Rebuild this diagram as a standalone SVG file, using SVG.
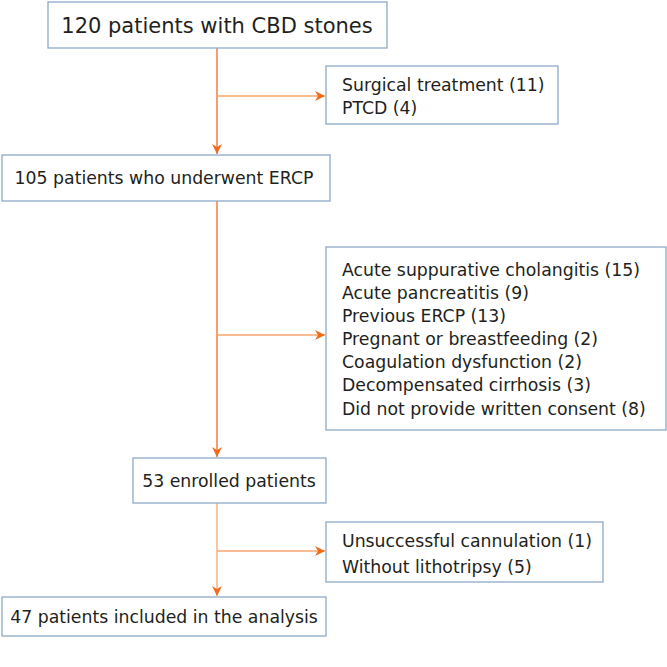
<svg xmlns="http://www.w3.org/2000/svg" width="667" height="667" viewBox="0 0 667 667">
<style>
rect{fill:#fff;stroke:#8ea9c8;stroke-width:1.3}
text{font-family:"DejaVu Sans",sans-serif;font-size:17.3px;fill:#231f20}
.m{stroke:#f26b1d;stroke-width:1.3;fill:none}
.b{stroke:#f7a66b;stroke-width:1.3;fill:none}
</style>
<defs><marker id="a" viewBox="0 0 10 10" refX="10" refY="5" markerWidth="10" markerHeight="10" markerUnits="userSpaceOnUse" orient="auto"><path d="M0,0 L10,5 L0,10 L3,5 z" fill="#f26b1d"/></marker></defs>
<g id="connectors">
<path class="m" d="M217,48 V154" marker-end="url(#a)"/>
<path class="b" d="M217,96 H325" marker-end="url(#a)"/>
<path class="m" d="M217,201 V457" marker-end="url(#a)"/>
<path class="b" d="M217,335 H325" marker-end="url(#a)"/>
<path class="b" d="M217,503 V596" marker-end="url(#a)"/>
<path class="b" d="M217,551 H325" marker-end="url(#a)"/>
</g>
<g id="n1"><rect x="48" y="2" width="339" height="46"/><text x="217" y="33" text-anchor="middle" style="font-size:21px">120 patients with CBD stones</text></g>
<g id="n2"><rect x="326" y="66" width="232" height="58"/><text x="342" y="91">Surgical treatment (11)</text><text x="342" y="114">PTCD (4)</text></g>
<g id="n3"><rect x="2" y="155" width="328" height="46"/><text x="164" y="184" text-anchor="middle">105 patients who underwent ERCP</text></g>
<g id="n4"><rect x="326" y="247" width="340" height="183"/>
<text x="342" y="276">Acute suppurative cholangitis (15)</text>
<text x="342" y="299">Acute pancreatitis (9)</text>
<text x="342" y="322">Previous ERCP (13)</text>
<text x="342" y="345">Pregnant or breastfeeding (2)</text>
<text x="342" y="368">Coagulation dysfunction (2)</text>
<text x="342" y="391">Decompensated cirrhosis (3)</text>
<text x="342" y="415">Did not provide written consent (8)</text></g>
<g id="n5"><rect x="133" y="458" width="193" height="45"/><text x="229" y="487" text-anchor="middle">53 enrolled patients</text></g>
<g id="n6"><rect x="326" y="522" width="277" height="60"/><text x="342" y="547">Unsuccessful cannulation (1)</text><text x="342" y="573">Without lithotripsy (5)</text></g>
<g id="n7"><rect x="2" y="597" width="324" height="39"/><text x="164" y="623" text-anchor="middle">47 patients included in the analysis</text></g>
</svg>
